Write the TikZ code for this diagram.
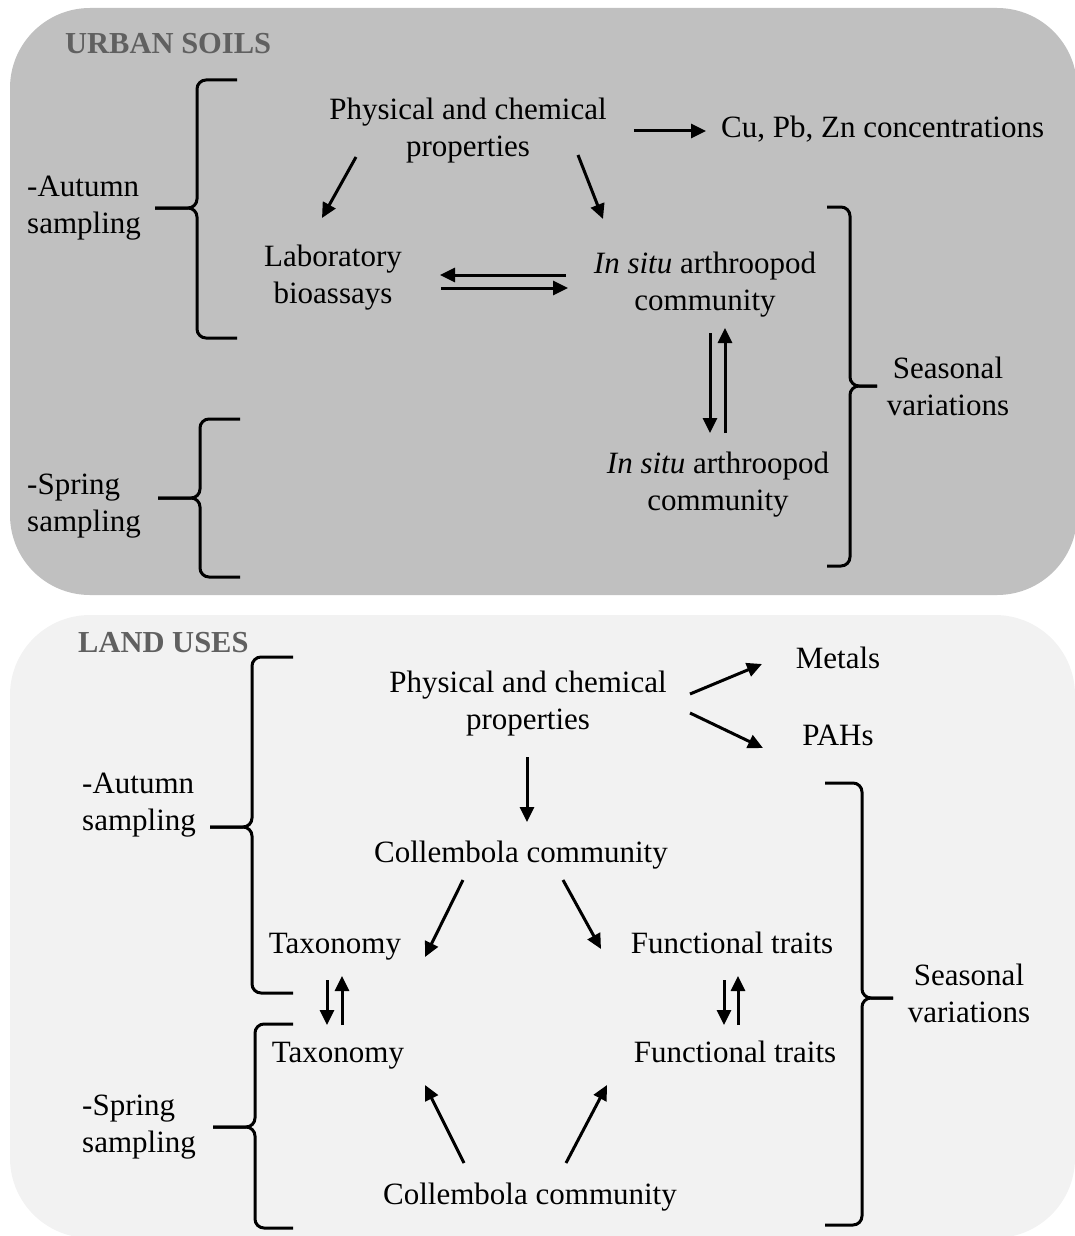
\documentclass[tikz,border=0pt]{standalone}
\usepackage{fontspec}
\setmainfont{Liberation Serif}
\usetikzlibrary{arrows.meta}
\definecolor{urbangray}{RGB}{192,192,192}
\definecolor{landgray}{RGB}{242,242,242}
\definecolor{titlegray}{RGB}{96,96,96}
% side brace: vertical x, end x, tip x, top y, tip y, bottom y
\newcommand{\sidebrace}[6]{%
  \draw[bracket] (#2,#4) -- (#1,#4) -- (#1,#5) -- (#3,#5);
  \draw[bracket] (#2,#6) -- (#1,#6) -- (#1,#5) -- (#3,#5);}
\begin{document}
\begin{tikzpicture}[x=1pt, y=-1pt,
    txt/.style={inner sep=0pt, yshift=-4pt, align=center, font=\fontsize{31}{37}\selectfont},
    one/.style={txt, text height=21pt, text depth=7pt},
    side/.style={txt, align=left, anchor=west},
    title/.style={inner sep=0pt, anchor=west, text=titlegray, font=\fontsize{30.5}{37}\selectfont\bfseries},
    arr/.style={line width=3pt, -{Triangle[length=15pt,width=14pt]}},
    bracket/.style={line width=3pt, rounded corners=9pt}]
    \useasboundingbox (0,0) rectangle (1074,1236);
    \fill [urbangray, rounded corners=80pt] (10,8) rectangle (1077,595);
    \fill [landgray, rounded corners=80pt] (10,615) rectangle (1075,1238);

    % urban soils
    \node [title] (uTitle) at (65,44) {URBAN SOILS};
    \node [txt] (uPhys) at (468,127) {Physical and chemical\\properties};
    \node [one, anchor=west] (uMetal) at (721,127) {Cu, Pb, Zn concentrations};
    \node [txt] (uLab) at (333,274) {Laboratory\\bioassays};
    \node [txt] (uSitu1) at (705,281) {\textit{In situ} arthroopod\\community};
    \node [txt] (uSitu2) at (718,481) {\textit{In situ} arthroopod\\community};
    \node [side] (uAut) at (27,204) {-Autumn\\sampling};
    \node [side] (uSpr) at (27,502) {-Spring\\sampling};
    \node [txt] (uSeas) at (948,382) {Seasonal\\variations};

    \draw [arr, shorten <=27pt, shorten >=15pt] (uPhys.east) -- (uMetal.west);
    \draw [arr] ([shift={(-112,26)}]uPhys.center) -- ([shift={(-11,-60)}]uLab.center);
    \draw [arr] ([shift={(110,24)}]uPhys.center) -- ([shift={(-102,-66)}]uSitu1.center);
    \draw [arr] ([shift={(-139,-10)}]uSitu1.center) -- ([shift={(107,-3)}]uLab.center);
    \draw [arr] ([shift={(108,10)}]uLab.center) -- ([shift={(-137,3)}]uSitu1.center);
    \draw [arr] ([shift={(5,48)}]uSitu1.center) -- ([shift={(-8,-52)}]uSitu2.center);
    \draw [arr] ([shift={(7,-52)}]uSitu2.center) -- ([shift={(20,43)}]uSitu1.center);

    \sidebrace{197}{237}{155}{80}{208}{338}
    \sidebrace{200}{240}{158}{419}{498}{577}
    \sidebrace{850}{827}{877}{207}{386}{566}

    % land uses
    \node [title] (lTitle) at (78,643) {LAND USES};
    \node [txt] (lPhys) at (528,700) {Physical and chemical\\properties};
    \node [one] (lMet) at (838,657) {Metals};
    \node [one] (lPah) at (838,734) {PAHs};
    \node [one] (lCol1) at (521,851) {Collembola community};
    \node [one] (lTax1) at (335,942) {Taxonomy};
    \node [one] (lFun1) at (732,942) {Functional traits};
    \node [one] (lTax2) at (338,1051) {Taxonomy};
    \node [one] (lFun2) at (735,1051) {Functional traits};
    \node [one] (lCol2) at (530,1193) {Collembola community};
    \node [side] (lAut) at (82,801) {-Autumn\\sampling};
    \node [side] (lSpr) at (82,1123) {-Spring\\sampling};
    \node [txt] (lSeas) at (969,989) {Seasonal\\variations};

    \draw [arr] ([shift={(162,-10)}]lPhys.center) -- ([shift={(-76,3)}]lMet.center);
    \draw [arr] ([shift={(162,9)}]lPhys.center) -- ([shift={(-75,10)}]lPah.center);
    \draw [arr] ([shift={(-1,53)}]lPhys.center) -- ([shift={(6,-33)}]lCol1.center);
    \draw [arr] ([shift={(-58,25)}]lCol1.center) -- ([shift={(90,11)}]lTax1.center);
    \draw [arr] ([shift={(42,25)}]lCol1.center) -- ([shift={(-131,3)}]lFun1.center);
    \draw [arr] ([shift={(-8,34)}]lTax1.center) -- ([shift={(-11,-30)}]lTax2.center);
    \draw [arr] ([shift={(4,-30)}]lTax2.center) -- ([shift={(7,30)}]lTax1.center);
    \draw [arr] ([shift={(-8,34)}]lFun1.center) -- ([shift={(-11,-30)}]lFun2.center);
    \draw [arr] ([shift={(3,-30)}]lFun2.center) -- ([shift={(6,30)}]lFun1.center);
    \draw [arr] ([shift={(-66,-34)}]lCol2.center) -- ([shift={(87,30)}]lTax2.center);
    \draw [arr] ([shift={(36,-34)}]lCol2.center) -- ([shift={(-128,30)}]lFun2.center);

    \sidebrace{252}{293}{210}{657}{827}{993}
    \sidebrace{255}{293}{213}{1024}{1127}{1228}
    \sidebrace{862}{825}{893}{783}{998}{1225}
\end{tikzpicture}
\end{document}
